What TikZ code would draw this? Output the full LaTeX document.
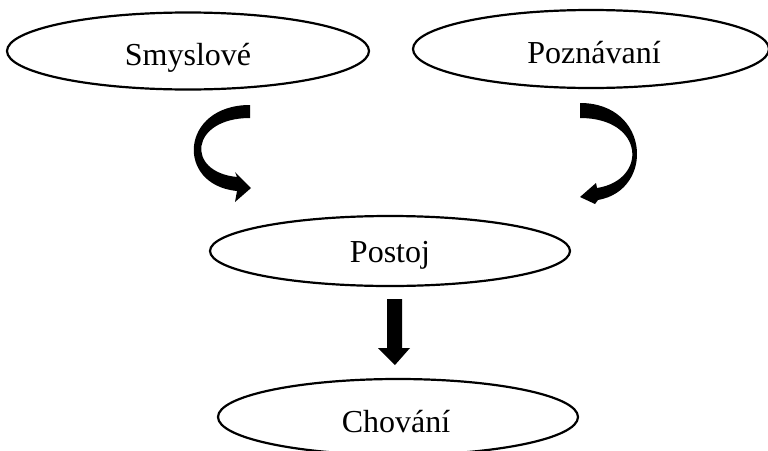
\documentclass[tikz,border=0pt]{standalone}
\usepackage{fontspec}
\setmainfont{Liberation Serif}
\usetikzlibrary{shapes.geometric}
\begin{document}
\begin{tikzpicture}[x=1pt,y=-1pt,
  oval/.style={ellipse,draw=black,line width=2.2pt,inner sep=0pt,fill=white},
  lbl/.style={anchor=base,inner sep=0pt,font=\fontsize{32}{38}\selectfont},
  blockarrow/.style={fill=black,draw=none}]
\useasboundingbox (0,0) rectangle (768,450);
\clip (0,0) rectangle (768,450);
\fill[white] (0,0) rectangle (768,450);
% ellipses
\node[oval,minimum width=362pt,minimum height=77pt] (e1) at (188,51) {};
\node[oval,minimum width=356pt,minimum height=78pt] (e2) at (591,49) {};
\node[oval,minimum width=360pt,minimum height=70pt] (e3) at (390,251) {};
\node[oval,minimum width=360pt,minimum height=76pt] (e4) at (398,417) {};
% labels
\node[lbl] (t1) at (188,65) {Smyslové};
\node[lbl] (t2) at (594,63) {Poznávaní};
\node[lbl] (t3) at (390,262) {Postoj};
\node[lbl] (t4) at (396,432) {Chování};
% curved block arrow left
\fill[blockarrow] (250,105) -- (250,118)
  .. controls (190,118) and (185,172) .. (237,177)
  -- (235,172) -- (251,188) -- (235,202) -- (237,191)
  .. controls (175,185) and (180,105) .. (250,105) -- cycle;
% curved block arrow right
\fill[blockarrow] (580,103) -- (580,118)
  .. controls (645,118) and (648,180) .. (597,188)
  -- (596,183) -- (580,197) -- (595,204) -- (598,200)
  .. controls (655,190) and (650,103) .. (580,103) -- cycle;
% straight block arrow down
\fill[blockarrow] (387,299) -- (402,299) -- (402,348) -- (410,348)
  -- (395,365) -- (378,348) -- (387,348) -- cycle;
\end{tikzpicture}
\end{document}
